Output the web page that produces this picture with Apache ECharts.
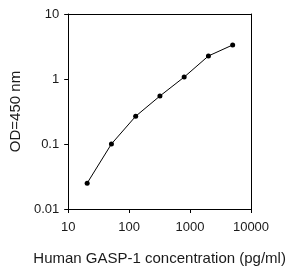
<!DOCTYPE html>
<html><head><meta charset="utf-8">
<script src="https://cdn.jsdelivr.net/npm/echarts@6/dist/echarts.min.js"></script>
<style>html,body{margin:0;padding:0;background:#fff}#c{width:294px;height:272px}</style>
</head><body><div id="c"></div>
<script>
const concentration = [20.48, 51.2, 128, 320, 800, 2000, 5000];
const od = [0.025, 0.1, 0.267, 0.547, 1.07, 2.26, 3.34];
const xTicks = [10, 100, 1000, 10000];
const yTicks = [0.01, 0.1, 1, 10];
const xName = 'Human GASP-1 concentration (pg/ml)';
const yName = 'OD=450 nm';

const chart = echarts.init(document.getElementById('c'), null, {renderer: 'canvas'});
const font = 'Liberation Sans, Arial, sans-serif';
chart.setOption({
  animation: false,
  grid: {left: 66, right: 43, top: 14, bottom: 63},
  xAxis: [{
    type: 'log', logBase: 10, min: xTicks[0], max: xTicks[xTicks.length-1],
    name: xName, nameLocation: 'middle', nameGap: 42,
    nameTextStyle: {fontFamily: font, fontSize: 15, color: '#1a1a1a'},
    axisLine: {show: true, lineStyle: {color: '#000', width: 1}},
    axisTick: {show: true, inside: false, length: 4, lineStyle: {color: '#000'}},
    axisLabel: {fontFamily: font, fontSize: 13, color: '#1a1a1a', margin: 12,
      formatter: v => String(Math.round(v))},
    splitLine: {show: false}, minorTick: {show: false}
  }, {
    type: 'log', logBase: 10, min: xTicks[0], max: xTicks[xTicks.length-1], position: 'top',
    axisLine: {show: true, lineStyle: {color: '#000', width: 1}},
    axisTick: {show: false}, axisLabel: {show: false}, splitLine: {show: false}
  }],
  yAxis: [{
    type: 'log', logBase: 10, min: yTicks[0], max: yTicks[yTicks.length-1],
    name: yName, nameLocation: 'middle', nameGap: 40, nameRotate: 90,
    nameTextStyle: {fontFamily: font, fontSize: 15, color: '#1a1a1a'},
    axisLine: {show: true, lineStyle: {color: '#000', width: 1}},
    axisTick: {show: true, inside: false, length: 4, lineStyle: {color: '#000'}},
    axisLabel: {fontFamily: font, fontSize: 13, color: '#1a1a1a', margin: 9,
      formatter: v => { const r = yTicks.find(t => Math.abs(t - v) / t < 1e-6); return r !== undefined ? String(r) : String(v); }},
    splitLine: {show: false}
  }, {
    type: 'log', logBase: 10, min: yTicks[0], max: yTicks[yTicks.length-1], position: 'right',
    axisLine: {show: true, lineStyle: {color: '#000', width: 1}},
    axisTick: {show: false}, axisLabel: {show: false}, splitLine: {show: false}
  }],
  series: [{
    type: 'line',
    data: concentration.map((c, i) => [c, od[i]]),
    symbol: 'circle', symbolSize: 5,
    lineStyle: {color: '#000', width: 1},
    itemStyle: {color: '#000'}
  }]
});
</script></body></html>
